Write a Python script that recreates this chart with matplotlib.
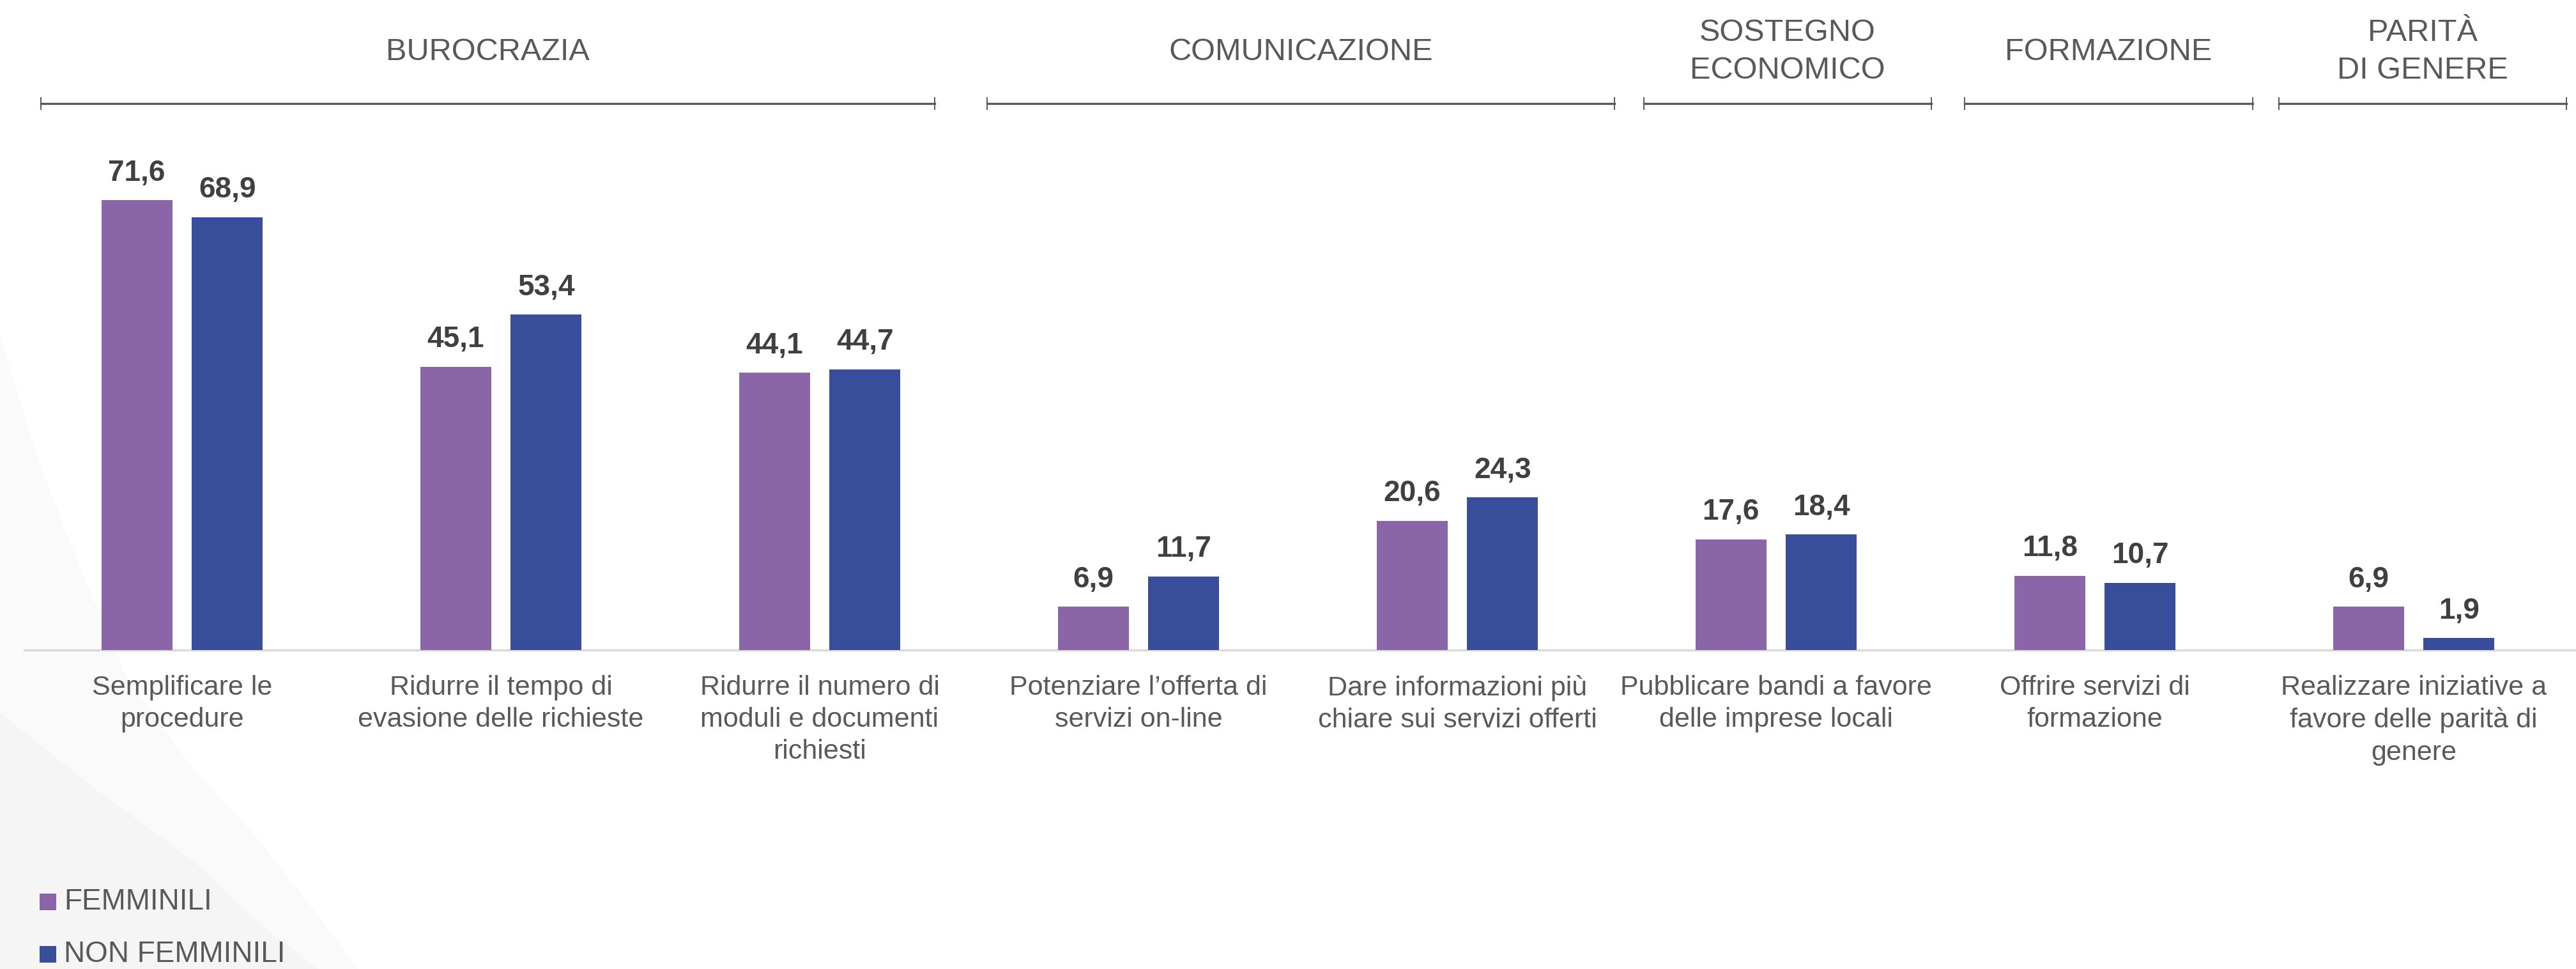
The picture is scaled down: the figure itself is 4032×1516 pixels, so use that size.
import matplotlib
matplotlib.use("Agg")
import matplotlib.pyplot as plt
from matplotlib.patches import Polygon, Rectangle
from matplotlib.lines import Line2D
import matplotlib.transforms as mtransforms
import numpy as np

# ---- data -------------------------------------------------------------
categories = [
    "Semplificare le\nprocedure",
    "Ridurre il tempo di\nevasione delle richieste",
    "Ridurre il numero di\nmoduli e documenti\nrichiesti",
    "Potenziare l\u2019offerta di\nservizi on-line",
    "Dare informazioni più\nchiare sui servizi offerti",
    "Pubblicare bandi a favore\ndelle imprese locali",
    "Offrire servizi di\nformazione",
    "Realizzare iniziative a\nfavore delle parità di\ngenere",
]
femminili = [71.6, 45.1, 44.1, 6.9, 20.6, 17.6, 11.8, 6.9]
non_femminili = [68.9, 53.4, 44.7, 11.7, 24.3, 18.4, 10.7, 1.9]
series_names = ["FEMMINILI", "NON FEMMINILI"]

group_names = ["BUROCRAZIA", "COMUNICAZIONE", "SOSTEGNO\nECONOMICO",
               "FORMAZIONE", "PARITÀ\nDI GENERE"]
group_sizes = [3, 2, 1, 1, 1]

# ---- style ------------------------------------------------------------
PURPLE = "#8A66A8"
BLUE = "#384E9B"
LABEL_GREY = "#595959"
VALUE_DARK = "#404040"
FONT = ["Liberation Sans", "DejaVu Sans"]

W, H = 4032, 1516
DPI = 100
fig = plt.figure(figsize=(W / DPI, H / DPI), dpi=DPI)
fig.patch.set_facecolor("white")


def fx(px):
    return px / W


def fy(py):
    return 1 - py / H


# soft decorative shading in the lower-left corner (behind everything)
shade_a = [(0, 525), (60, 720), (130, 900), (200, 1062), (300, 1200),
           (400, 1308), (480, 1410), (561, 1516), (0, 1516)]
shade_b = [(0, 1115), (150, 1235), (300, 1345), (400, 1440),
           (497, 1516), (0, 1516)]
for pts, col in ((shade_a, "#fafafa"), (shade_b, "#f5f5f5")):
    fig.patches.append(Polygon([(fx(x), fy(y)) for x, y in pts],
                               closed=True, transform=fig.transFigure,
                               facecolor=col, edgecolor="none", zorder=-5))

# ---- bars -------------------------------------------------------------
n = len(categories)
x = np.arange(n)
cat_w = 499.0          # pixels per category
x0_px = 285.0          # pixel centre of first category
base_px = 1017.0
ymax = 80.0
px_per_unit = 9.83

ax = fig.add_axes([0, fy(base_px), 1, ymax * px_per_unit / H])
ax.set_zorder(1)
ax.set_facecolor("none")
ax.set_xlim(-x0_px / cat_w, (W - x0_px) / cat_w)
ax.set_ylim(0, ymax)
for s in ax.spines.values():
    s.set_visible(False)
ax.set_xticks([])
ax.set_yticks([])

bw = 0.222
off = 0.142
b1 = ax.bar(x - off, femminili, bw, color=PURPLE, zorder=3)
b2 = ax.bar(x + off, non_femminili, bw, color=BLUE, zorder=3)

for bars, vals in ((b1, femminili), (b2, non_femminili)):
    for rect, v in zip(bars, vals):
        ax.annotate(f"{v:.1f}".replace(".", ","),
                    (rect.get_x() + rect.get_width() / 2, v),
                    xytext=(0, 22), textcoords="offset points",
                    ha="center", va="baseline", fontsize=33,
                    fontweight="bold", color=VALUE_DARK, family=FONT)

# baseline
base_tr = mtransforms.blended_transform_factory(fig.transFigure, ax.transData)
ax.add_line(Line2D([fx(38), 1], [0, 0], transform=base_tr,
                   color="#d9d9d9", lw=2.4, zorder=2, clip_on=False))

# category labels
for xi, lab in zip(x, categories):
    ax.annotate(lab, (xi, 0), xytext=(0, -28), textcoords="offset points",
                ha="center", va="top", fontsize=31, color=LABEL_GREY,
                linespacing=1.33, family=FONT, multialignment="center")

# ---- group headers with brackets -------------------------------------
bracket_pad = [(-0.443, 0.361), (-0.475, 0.493), (-0.415, 0.487),
               (-0.409, 0.495), (-0.423, 0.479)]
hdr_tr = mtransforms.blended_transform_factory(ax.transData, fig.transFigure)
start = 0
for name, size, (pl, pr) in zip(group_names, group_sizes, bracket_pad):
    a = start + pl
    b = start + size - 1 + pr
    yb = fy(162)
    tick = 9 / H
    fig.add_artist(Line2D([a, b], [yb, yb], transform=hdr_tr,
                          color=LABEL_GREY, lw=2.4))
    for xe in (a, b):
        fig.add_artist(Line2D([xe, xe], [yb - tick, yb + tick],
                              transform=hdr_tr, color=LABEL_GREY, lw=1.4))
    fig.text((a + b) / 2, fy(81), name, transform=hdr_tr, ha="center",
             va="center", fontsize=35, color=LABEL_GREY, linespacing=1.38,
             family=FONT, multialignment="center")
    start += size

# ---- legend -----------------------------------------------------------
for i, (name, col) in enumerate(zip(series_names, [PURPLE, BLUE])):
    cy = 1411 + 82 * i
    fig.patches.append(Rectangle((fx(62), fy(cy + 13)), 26 / W, 26 / H,
                                 transform=fig.transFigure, facecolor=col,
                                 edgecolor="none", zorder=2))
    fig.text(fx(100), fy(cy), name, ha="left", va="center", fontsize=33,
             color=LABEL_GREY, family=FONT)

fig.savefig("out.png", dpi=DPI, facecolor="white")
